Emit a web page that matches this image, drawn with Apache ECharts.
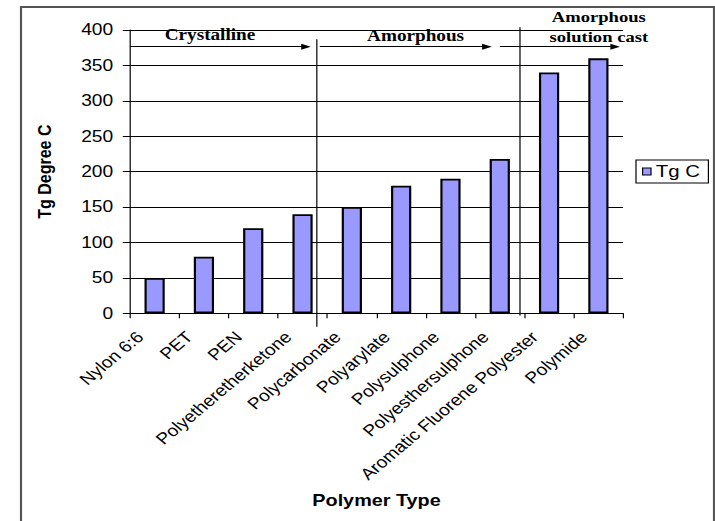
<!DOCTYPE html>
<html>
<head>
<meta charset="utf-8">
<script src="https://cdn.jsdelivr.net/npm/echarts@6/dist/echarts.min.js"></script>
<style>
  html, body { margin: 0; padding: 0; background: #fff; overflow: hidden; }
  /* The chart is laid out on a narrower canvas and widened 1.2x, giving the wide Excel-style lettering */
  #chart { width: 596px; height: 521px; transform: scaleX(1.2); transform-origin: 0 0; }
</style>
</head>
<body>
<div id="chart"></div>
<script>
// Glass transition temperature by polymer type
const polymers = [
  'Nylon 6:6', 'PET', 'PEN', 'Polyetheretherketone', 'Polycarbonate',
  'Polyarylate', 'Polysulphone', 'Polyesthersulphone',
  'Aromatic Fluorene Polyester', 'Polymide'
];
const tgValues = [50, 80, 120, 140, 150, 180, 190, 218, 340, 360];
const yTicks = [0, 50, 100, 150, 200, 250, 300, 350, 400];

// Group annotations, in category-span units (0..10) and degrees C
const dividerX = [3.79, 7.91];
const dividerTop = [387, 404];
const dividerBottom = [-19, -3];
const arrowY = 376.4;
const arrowStart = [0, 3.85, 7.5];
const arrowEnd = [3.57, 7.24, 9.84];

const SANS = 'Liberation Sans, Arial, sans-serif';
const SERIF = 'Liberation Serif, Times New Roman, serif';

const chart = echarts.init(document.getElementById('chart'), null, { renderer: 'svg' });

const dividerSeries = dividerX.map((x, i) => ({
  type: 'line',
  xAxisIndex: 1,
  yAxisIndex: 0,
  silent: true,
  clip: false,
  symbol: 'none',
  lineStyle: { color: '#000', width: 1 },
  data: [[x, dividerTop[i]], [x, dividerBottom[i]]],
  z: 5
}));

dividerSeries[0].markLine = {
  silent: true,
  symbol: ['none', 'triangle'],
  symbolSize: [6, 8],
  label: { show: false },
  lineStyle: { color: '#000', width: 1, type: 'solid' },
  data: arrowStart.map((s, i) => [
    { coord: [s, arrowY] },
    { coord: [arrowEnd[i], arrowY] }
  ])
};

chart.setOption({
  animation: false,
  backgroundColor: '#fff',
  grid: { left: 108.3, right: 76.8, top: 30, bottom: 207.7, containLabel: false },
  legend: {
    orient: 'vertical',
    left: 530,
    top: 160,
    padding: [3, 7, 3, 5],
    borderColor: '#000',
    borderWidth: 1,
    itemWidth: 7,
    itemHeight: 7,
    itemGap: 0,
    icon: 'rect',
    itemStyle: { color: '#9999ff', borderColor: '#000', borderWidth: 1 },
    textStyle: { fontFamily: SANS, fontSize: 17, color: '#000', padding: [0, 0, 0, -1] },
    data: ['Tg C']
  },
  xAxis: [
    {
      type: 'category',
      data: polymers,
      boundaryGap: true,
      name: 'Polymer Type',
      nameLocation: 'middle',
      nameGap: 179,
      nameTextStyle: { fontFamily: SANS, fontSize: 16.5, fontWeight: 'bold', color: '#000' },
      axisLine: { show: true, lineStyle: { color: '#000', width: 1 } },
      axisTick: { show: true, alignWithLabel: false, length: 5, lineStyle: { color: '#000', width: 1 } },
      axisLabel: {
        interval: 0,
        rotate: 45,
        margin: 9,
        padding: [0, 17, 0, 0],
        fontFamily: SANS,
        fontSize: 16,
        color: '#000'
      },
      splitLine: { show: false }
    },
    {
      type: 'value',
      min: 0,
      max: 10,
      show: false
    }
  ],
  yAxis: {
    type: 'value',
    min: yTicks[0],
    max: yTicks[yTicks.length - 1],
    interval: yTicks[1] - yTicks[0],
    name: 'Tg Degree C',
    nameLocation: 'middle',
    nameGap: 63,
    nameTextStyle: { fontFamily: SANS, fontSize: 16, fontWeight: 'bold', color: '#000' },
    axisLine: { show: true, lineStyle: { color: '#000', width: 1 } },
    axisTick: { show: true, length: 6, lineStyle: { color: '#000', width: 1 } },
    axisLabel: { margin: 14, fontFamily: SANS, fontSize: 16, color: '#000' },
    splitLine: { show: true, lineStyle: { color: '#000', width: 1 } }
  },
  graphic: [
    {
      type: 'rect',
      silent: true,
      shape: { x: 17.5, y: 7, width: 577.5, height: 540 },
      style: { fill: 'none', stroke: '#555', lineWidth: 1.8 },
      z: 0
    },
    {
      type: 'text', silent: true, x: 175, y: 35,
      style: { text: 'Crystalline', font: 'bold 16px ' + SERIF, fill: '#000', textAlign: 'center', textVerticalAlign: 'middle' }
    },
    {
      type: 'text', silent: true, x: 346.3, y: 36,
      style: { text: 'Amorphous', font: 'bold 16px ' + SERIF, fill: '#000', textAlign: 'center', textVerticalAlign: 'middle' }
    },
    {
      type: 'text', silent: true, x: 499, y: 17,
      style: { text: 'Amorphous', font: 'bold 15.5px ' + SERIF, fill: '#000', textAlign: 'center', textVerticalAlign: 'middle' }
    },
    {
      type: 'text', silent: true, x: 499, y: 37,
      style: { text: 'solution cast', font: 'bold 15.5px ' + SERIF, fill: '#000', textAlign: 'center', textVerticalAlign: 'middle' }
    }
  ],
  series: [
    {
      name: 'Tg C',
      type: 'bar',
      xAxisIndex: 0,
      yAxisIndex: 0,
      data: tgValues,
      barWidth: '41%',
      itemStyle: { color: '#9999ff', borderColor: '#000', borderWidth: 1.8 },
      z: 3
    },
    ...dividerSeries
  ]
});
</script>
</body>
</html>
